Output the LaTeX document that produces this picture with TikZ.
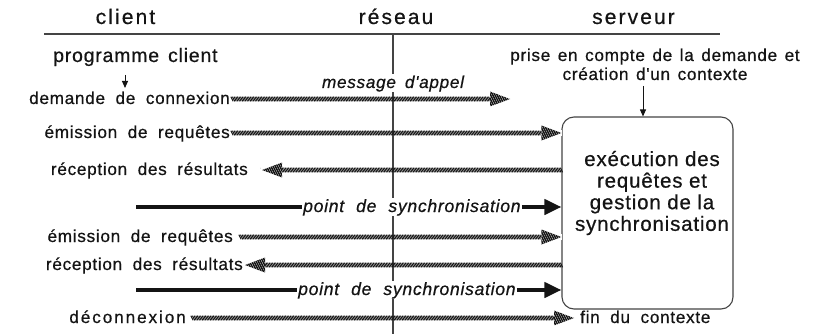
\documentclass[tikz,border=0pt]{standalone}
\usepackage{fontspec}
\setmainfont{Liberation Sans}
\newfontfamily\headfont[LetterSpace=10,FakeBold=0.6]{Liberation Sans}
\newfontfamily\labelfont[LetterSpace=4,FakeBold=0.6]{Liberation Sans}
\newfontfamily\widelabelfont[LetterSpace=11,FakeBold=0.6]{Liberation Sans}
\newfontfamily\procfont[LetterSpace=4,FakeBold=0.6]{Liberation Sans}
\usetikzlibrary{arrows.meta,decorations.markings}

\definecolor{ink}{HTML}{141414}
\definecolor{rulegray}{HTML}{444444}

% fixed interword spaces for the various label fonts
\newcommand\gap[1]{\spaceskip=#1pt\relax}

% striped wedge at the end of a message wire (local frame: tip at origin, pointing +x)
\newcommand\hatchhead{%
  \fill[white] (-20pt,-3pt) rectangle (1pt,3pt);
  \begin{scope}
    \clip (0pt,0pt) -- (-20pt,7.5pt) -- (-20pt,-7.5pt) -- cycle;
    \foreach \k in {0,...,14}{
      \draw[line width=1.5pt,ink] ({-28pt+\k*2.2pt},8pt) -- ({-20pt+\k*2.2pt},-8pt);
    }
  \end{scope}}

\tikzset{
  txt/.style={text=ink, inner sep=0pt},
  hdr/.style={txt, font=\headfont\fontsize{21}{24}\selectfont, anchor=base},
  lbl/.style={txt, font=\labelfont\fontsize{17.2}{19}\selectfont\gap{10.5},
              text height=11pt, text depth=1pt},
  plain/.style={txt, font=\labelfont\fontsize{17.2}{19}\selectfont\gap{7.5}},
  sync/.style={lbl, font=\labelfont\itshape\fontsize{17.6}{19}\selectfont\gap{12},
               fill=white, inner xsep=1pt, inner ysep=3pt},
  prog/.style={txt, font=\labelfont\fontsize{19.5}{21}\selectfont\gap{9}},
  proc/.style={txt, font=\procfont\fontsize{20.5}{21.6}\selectfont, align=center},
  procbox/.style={draw=rulegray, line width=1.1pt, rounded corners=12pt,
                  minimum width=171pt, minimum height=192pt, inner sep=0pt},
  rulestyle/.style={draw=rulegray, line width=1.1pt},
  tick/.style={draw=ink, line width=1pt, -{Triangle[length=7pt,width=6pt]}},
  bar/.style={draw=ink, line width=4pt},
  bararrow/.style={bar, -{Triangle[length=17pt,width=15pt]}},
  wire/.style={
    postaction={decorate, decoration={markings,
      mark=between positions 0 and 1 step 1.6pt with
        {\draw[line width=1pt,ink] (-1.1pt,2.3pt) -- (1.1pt,-2.3pt);}}},
    postaction={decorate, decoration={markings,
      mark=at position 1 with {\hatchhead}}}}
}

\begin{document}
\begin{tikzpicture}[x=1pt,y=-1pt]
\useasboundingbox (0,0) rectangle (819,334);

% column headings and separators
\node[hdr] (hcli) at (125.5,24) {client};
\node[hdr] (hnet) at (396,24) {réseau};
\node[hdr] (hsrv) at (633.5,24) {serveur};
\coordinate (ruleL) at (44,34);
\coordinate (ruleR) at (720,34);
\coordinate (netTop) at (393,34);
\coordinate (netBot) at (393,334);
\draw[rulestyle] (ruleL) -- (ruleR);
\draw[rulestyle] (netTop) -- (netBot);

% connection request
\node[prog, anchor=base west] (prog) at (53,62) {programme client};
\coordinate (progFrom) at (125,75);
\coordinate (progTo) at (125,88);
\draw[tick] (progFrom) -- (progTo);
\node[lbl, anchor=east] (conn) at (230,99) {demande de connexion};
\node[sync, anchor=base, font=\labelfont\itshape\fontsize{17.2}{19}\selectfont\gap{9}] (msg) at (393,88) {message d'appel};
\coordinate (callTip) at (510,99);
\path[wire] ([xshift=2pt]conn.east) -- (callTip);

% server side
\node[plain, anchor=base] (ctx1) at (655,61) {prise en compte de la demande et};
\node[plain, anchor=base] (ctx2) at (655,80) {création d'un contexte};
\node[procbox] (box) at (647.5,213) {};
\node[proc] (boxtxt) at (652,193) {exécution des\\requêtes et\\gestion de la\\synchronisation};
\coordinate (ctxFrom) at (643,86);
\draw[tick] (ctxFrom) -- (ctxFrom |- box.north);

% first exchange
\node[lbl, anchor=east] (em1) at (230,133) {émission de requêtes};
\path[wire] ([xshift=2pt]em1.east) -- (em1.east -| box.west);
\node[lbl, anchor=east] (re1) at (248,170) {réception des résultats};
\path[wire] (re1.east -| box.west) -- ([xshift=14pt]re1.east);
\coordinate (sy1L) at (136,207);
\node[sync, anchor=west] (sy1) at (302,207) {point de synchronisation};
\draw[bar] (sy1L) -- (sy1.west);
\draw[bararrow] (sy1.east) -- (sy1.east -| box.west);

% second exchange
\node[lbl, anchor=east] (em2) at (233,237) {émission de requêtes};
\path[wire] ([xshift=7pt]em2.east) -- (em2.east -| box.west);
\node[lbl, anchor=east] (re2) at (243,265) {réception des résultats};
\path[wire] (re2.east -| box.west) -- ([xshift=2pt]re2.east);
\coordinate (sy2L) at (136,290);
\node[sync, anchor=west] (sy2) at (297,290) {point de synchronisation};
\draw[bar] (sy2L) -- (sy2.west);
\draw[bararrow] (sy2.east) -- (sy2.east -| box.west);

% disconnection
\node[lbl, anchor=east, font=\widelabelfont\fontsize{17.2}{19}\selectfont] (disc) at (186,318) {déconnexion};
\node[lbl, anchor=west] (fin) at (580,318) {fin du contexte};
\path[wire] ([xshift=6pt]disc.east) -- ([xshift=-6pt]fin.west);
\end{tikzpicture}
\end{document}
